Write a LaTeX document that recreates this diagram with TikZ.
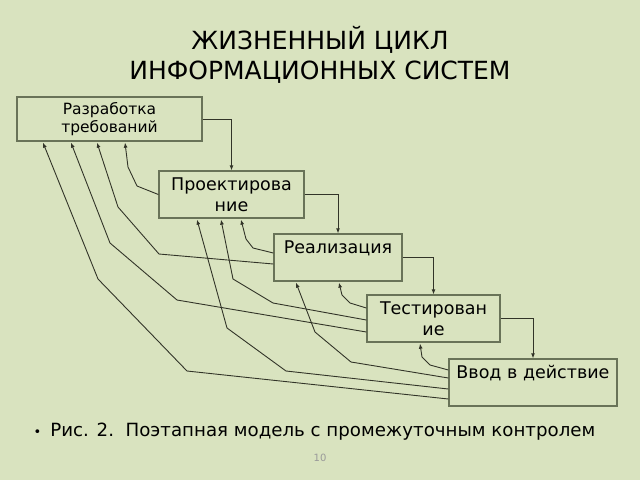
\documentclass[tikz,border=0pt]{standalone}
\usepackage{fontspec}
\setmainfont{DejaVu Sans}
\usepackage{tikz}
\usetikzlibrary{arrows.meta,calc}
\definecolor{slidebg}{RGB}{217,227,191}
\definecolor{boxline}{RGB}{105,115,88}
\definecolor{wire}{RGB}{50,52,40}
\tikzset{every picture/.style={line width=0.75pt}}
\tikzset{
  stage/.style={draw=boxline, line width=1.3pt, rectangle, align=center, inner sep=0pt,
    font=\fontsize{17.5}{21}\selectfont},
  fwd/.style={draw=wire, line width=0.9pt, -{Latex[length=5pt,width=4pt]}},
  back/.style={draw=wire, line width=0.9pt, -{Latex[length=5pt,width=4pt]}}
}

\begin{document}
\begin{tikzpicture}[x=1pt,y=1pt,yscale=-1,xscale=1]
\useasboundingbox (0,0) rectangle (640,480);
\fill[slidebg] (0,0) rectangle (640,480);

% Text Node
\node[align=center, font=\fontsize{25}{30}\selectfont] (title) at (320,55) {ЖИЗНЕННЫЙ ЦИКЛ\\ИНФОРМАЦИОННЫХ СИСТЕМ};

%Shape: Rectangle
\node[stage, minimum width=185pt, minimum height=44pt, font=\fontsize{15.5}{18}\selectfont] (b1) at (109.5,119) {Разработка\\требований};
%Shape: Rectangle
\node[stage, minimum width=145pt, minimum height=47pt] (b2) at (231.5,194.5) {Проектирова\\ние};
%Shape: Rectangle
\node[stage, minimum width=128pt, minimum height=47pt] (b3) at (338,257.5) {Реализация\\\mbox{}};
%Shape: Rectangle
\node[stage, minimum width=133pt, minimum height=47pt] (b4) at (433.5,318.5) {Тестирован\\ие};
%Shape: Rectangle
\node[stage, minimum width=168pt, minimum height=47pt] (b5) at (533,382.5) {Ввод в действие\\\mbox{}};

%Straight Lines
\draw[fwd] (b1.east) -| (b2.north);
\draw[fwd] (b2.east) -| (b3.north);
\draw[fwd] (b3.east) -| (b4.north);
\draw[fwd] (b4.east) -| (b5.north);

%Curve Lines (back to b1)
\draw[back] (b2.west) -- (137,186) -- (128,167) -- ($(b1.south)+(15.5,1)$);
\draw[back] ($(b3.west)+(0,6.5)$) -- (159,254) -- (118,207) -- ($(b1.south)+(-12.5,1)$);
\draw[back] ($(b4.west)+(0,13.5)$) -- (177,300) -- (110,243) -- ($(b1.south)+(-38.5,1)$);
\draw[back] ($(b5.west)+(0,16.5)$) -- (187,371) -- (98,279) -- ($(b1.south)+(-66.5,1)$);
%Curve Lines (back to b2)
\draw[back] ($(b3.west)+(0,-4.5)$) -- (253,248) -- (246,239) -- ($(b2.south)+(9.5,1)$);
\draw[back] ($(b4.west)+(0,1.5)$) -- (273,303) -- (233,279) -- ($(b2.south)+(-10.5,1)$);
\draw[back] ($(b5.west)+(0,6.5)$) -- (286,371) -- (227,328) -- ($(b2.south)+(-34.5,1)$);
%Curve Lines (back to b3)
\draw[back] ($(b4.west)+(0,-10.5)$) -- (350,303) -- (342,295) -- ($(b3.south)+(1,1)$);
\draw[back] ($(b5.west)+(0,-4.5)$) -- (351,362) -- (315,332) -- ($(b3.south)+(-42,1)$);
%Curve Lines (back to b4)
\draw[back] ($(b5.west)+(0,-12.5)$) -- (430,365) -- (422,357) -- ($(b4.south)+(-13.5,1)$);

% Text Node
\node[anchor=west, font=\fontsize{18.2}{22}\selectfont] (caption) at (30,432) {{\fontsize{13}{22}\selectfont•}\hspace{9pt}Рис. 2.\ \ Поэтапная модель с промежуточным контролем};
% Text Node
\node[font=\fontsize{10}{12}\selectfont, text=black!40] (pageno) at (320,458) {10};

\end{tikzpicture}
\end{document}
